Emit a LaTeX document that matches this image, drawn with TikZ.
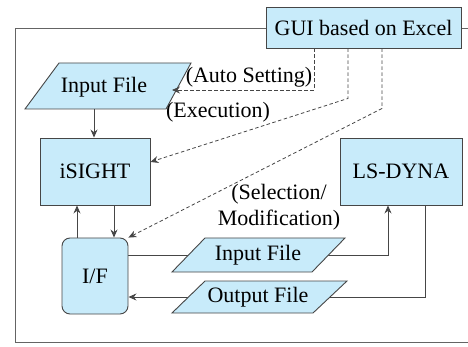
\documentclass[tikz,border=0pt]{standalone}
\usepackage{fontspec}
\setmainfont{Liberation Serif}
\usetikzlibrary{arrows.meta,backgrounds}
\definecolor{boxfill}{RGB}{200,235,250}
\definecolor{edge}{RGB}{70,70,70}
\definecolor{framec}{RGB}{100,100,100}
\begin{document}
\begin{tikzpicture}[x=1pt,y=-1pt,
  every node/.style={font=\fontsize{22}{26}\selectfont, inner sep=0pt},
  pshape/.style={draw=edge, fill=boxfill, line width=0.9pt},
  boxstyle/.style={draw=edge, fill=boxfill, line width=0.9pt},
  conn/.style={draw=edge, line width=0.9pt},
  arr/.style={conn, -{Stealth[length=8pt,width=7pt]}},
  darr/.style={conn, dashed, dash pattern=on 3.5pt off 2.5pt, line width=0.8pt, -{Stealth[length=8pt,width=7pt]}},
  lbl/.style={align=center}]
\useasboundingbox (0,0) rectangle (468,347);
% frame
\draw[framec, line width=0.9pt] (468,28) -- (15,28) -- (15,342) -- (468,342);

% parallelograms
\filldraw[pshape] (59,63) -- (191,63) -- (166,109) -- (25,109) -- cycle;
\filldraw[pshape] (205,238) -- (345,238) -- (312,272) -- (172,272) -- cycle;
\filldraw[pshape] (205,281) -- (347,281) -- (313,313) -- (172,313) -- cycle;

% nodes
\node[boxstyle, minimum width=195pt, minimum height=41pt] (gui) at (363.5,27.5) {GUI based on Excel};
\node (inA) at (104,87) {Input File};
\node[boxstyle, minimum width=110pt, minimum height=67pt] (isight) at (95,171.5) {\raisebox{-3pt}{iSIGHT}};
\node[boxstyle, minimum width=122pt, minimum height=67pt] (lsdyna) at (401,171.5) {\raisebox{-3pt}{LS-DYNA}};
\node[boxstyle, rounded corners=8pt, minimum width=66pt, minimum height=76pt] (if) at (95,276) {I/F};
\node (inB) at (258,255) {Input File};
\node (outB) at (258,297) {Output File};
\coordinate (inAb) at (94,109);
\coordinate (inAe) at (172,90);

% labels
\node (lauto) at (249,77) {(Auto Setting)};
\node (lexec) at (218,112) {(Execution)};
\node[lbl] (lsel) at (279,207) {(Selection/\\Modification)};

\begin{scope}[on background layer]
\draw[arr] (if.east |- inB) -| ([xshift=-13pt]lsdyna.south);
\draw[arr] ([xshift=24pt]lsdyna.south) |- (if.east |- outB);
\end{scope}
\draw[arr] (inAb) -- (isight.north -| inAb);
\draw[arr] ([xshift=19pt]isight.south) -- ([xshift=19pt]if.north);
\draw[arr] ([xshift=-18pt]if.north) -- ([xshift=-18pt]isight.south);
\draw[darr] ([xshift=-49.5pt]gui.south) |- (inAe);
\draw[darr] ([xshift=-15.5pt]gui.south) -- ++(0,50) -- ([yshift=9.5pt]isight.east);
\draw[darr] ([xshift=18.5pt]gui.south) -- ++(0,60) -- (if.north east);
\end{tikzpicture}
\end{document}
